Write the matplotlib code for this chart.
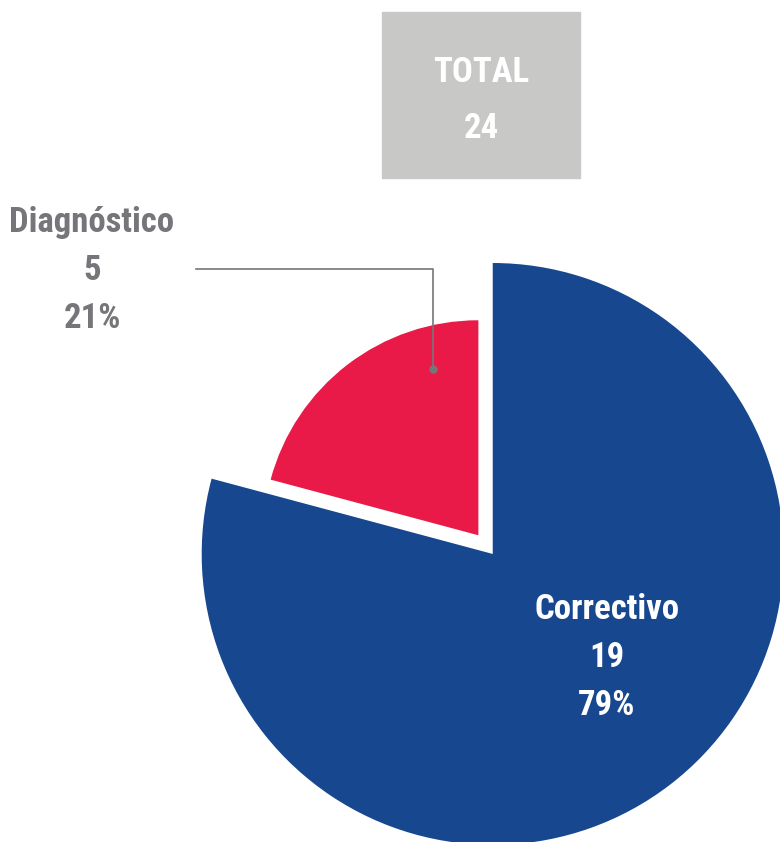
import numpy as np
import matplotlib
matplotlib.use("Agg")
import matplotlib.pyplot as plt
from matplotlib import font_manager
from matplotlib.patches import Rectangle

categories = ["Correctivo", "Diagnóstico"]
values = [19, 5]
colors = ["#17478e", "#e91a48"]
total = sum(values)

# pick a narrow bold font if there is one
names = set(f.name for f in font_manager.fontManager.ttflist)
font = "DejaVu Sans"
stretch = "condensed"
for cand in ["Roboto Condensed", "Liberation Sans Narrow", "Open Sans Condensed"]:
    if cand in names:
        font = cand
        stretch = "normal"
        break
plt.rcParams["font.family"] = [font, "DejaVu Sans"]

fig = plt.figure(figsize=(7.8, 8.42), dpi=100)
ax = fig.add_axes([0, 0, 1, 1])
ax.axis("off")

# big blue slice, full radius
wedges, _ = ax.pie(values, colors=[colors[0], "none"], startangle=90,
                   counterclock=False, radius=1.0)
# red slice, smaller and pulled out
wedges2, _ = ax.pie(values, colors=["none", colors[1]], startangle=90,
                    counterclock=False, radius=0.739, explode=[0, 0.081])
ax.set_xlim(-1.693, 0.987)
ax.set_ylim(-0.990, 1.904)
ax.set_aspect("auto")

gray = "#75757a"
fs = 25
kw = dict(ha="center", va="center", fontsize=fs, fontweight="bold",
          fontstretch=stretch)

pcts = [round(v * 100 / total) for v in values]

# Correctivo label inside blue
for i, s in enumerate([categories[0], str(values[0]), f"{pcts[0]}%"]):
    ax.text(0.392, -0.192 - i * 0.165, s, color="white", **kw)

# Diagnostico label outside with leader line
for i, s in enumerate([categories[1], str(values[1]), f"{pcts[1]}%"]):
    ax.text(-1.377, 1.139 - i * 0.165, s, color=gray, **kw)
ax.plot([-1.020, -0.206, -0.206], [0.979, 0.979, 0.636], color=gray, lw=1.2)
ax.plot([-0.206], [0.636], "o", color=gray, ms=5)

# total box
ax.add_patch(Rectangle((-0.380, 1.292), 0.680, 0.571, color="#c8c8c7"))
ax.text(-0.04, 1.656, "TOTAL", color="white", **kw)
ax.text(-0.04, 1.464, str(total), color="white", **kw)

fig.savefig("out.png", dpi=100)
